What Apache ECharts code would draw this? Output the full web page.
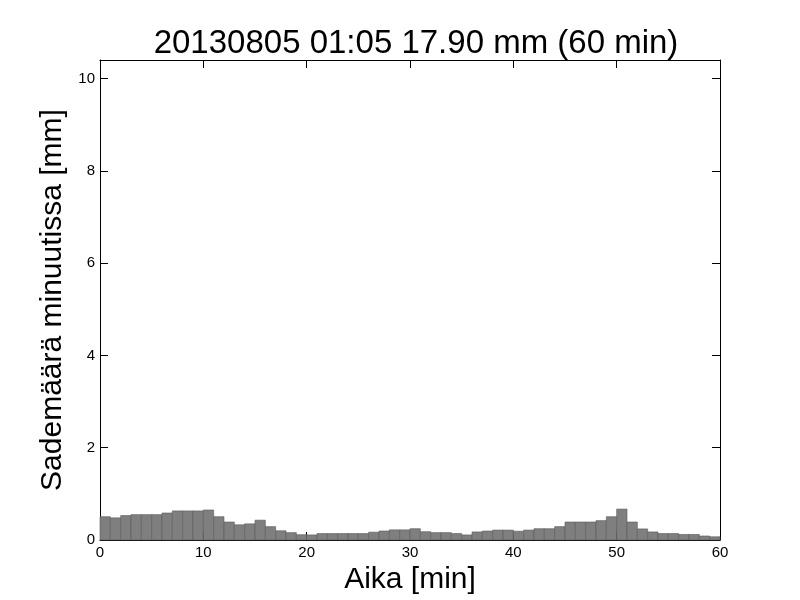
<!DOCTYPE html>
<html>
<head>
<meta charset="utf-8">
<script src="https://cdn.jsdelivr.net/npm/echarts@6/dist/echarts.min.js"></script>
<style>html,body{margin:0;padding:0;background:#fff}#c{width:800px;height:600px}</style>
</head>
<body>
<div id="c"></div>
<script>
const titleText = '20130805 01:05 17.90 mm (60 min)';
const xLabel = 'Aika [min]';
const yLabel = 'Sademäärä minuutissa [mm]';
const minutes = Array.from({length: 60}, (_, i) => i);
const rain = [
  0.505, 0.48, 0.53, 0.55, 0.55, 0.55, 0.585, 0.63, 0.63, 0.63,
  0.65, 0.505, 0.39, 0.33, 0.35, 0.43, 0.29, 0.20, 0.16, 0.115,
  0.11, 0.14, 0.14, 0.14, 0.14, 0.14, 0.17, 0.195, 0.22, 0.22,
  0.245, 0.18, 0.16, 0.16, 0.14, 0.11, 0.175, 0.195, 0.215, 0.215,
  0.19, 0.215, 0.245, 0.245, 0.29, 0.39, 0.39, 0.39, 0.42, 0.505,
  0.67, 0.39, 0.24, 0.175, 0.14, 0.14, 0.12, 0.12, 0.087, 0.07
];
const xTicks = [0, 10, 20, 30, 40, 50, 60];
const yTicks = [0, 2, 4, 6, 8, 10];

const data = minutes.map((m, i) => [m, m + 1, rain[i]]);
const font = 'Liberation Sans, Arial, sans-serif';
const chart = echarts.init(document.getElementById('c'));
const axisCommon = {
  axisLine: {show: true, onZero: false, lineStyle: {color: '#000', width: 1}},
  axisTick: {show: true, inside: true, length: 8, lineStyle: {color: '#000'}},
  splitLine: {show: false}
};
chart.setOption({
  animation: false,
  title: {text: titleText, left: 411, top: 22, textAlign: 'center',
    textStyle: {fontFamily: font, fontSize: 33, fontWeight: 'normal', color: '#000'}},
  grid: {left: 100, right: 80, top: 60, bottom: 60},
  xAxis: [
    Object.assign({type: 'value', min: 0, max: 60, interval: 10, position: 'bottom',
      name: xLabel, nameLocation: 'middle', nameGap: 23,
      nameTextStyle: {fontFamily: font, fontSize: 30, color: '#000'},
      axisLabel: {fontFamily: font, fontSize: 15, color: '#000', margin: 5,
        formatter: v => xTicks.includes(v) ? String(v) : ''}}, axisCommon),
    Object.assign({type: 'value', min: 0, max: 60, interval: 10, position: 'top',
      axisLabel: {show: false}}, axisCommon)
  ],
  yAxis: [
    Object.assign({type: 'value', min: 0, max: 10.4, interval: 2, position: 'left',
      name: yLabel, nameLocation: 'middle', nameGap: 28, nameRotate: 90,
      nameTextStyle: {fontFamily: font, fontSize: 30, color: '#000'},
      axisLabel: {fontFamily: font, fontSize: 15, color: '#000', margin: 5,
        formatter: v => yTicks.includes(v) ? String(v) : ''}}, axisCommon),
    Object.assign({type: 'value', min: 0, max: 10.4, interval: 2, position: 'right',
      axisLabel: {show: false}}, axisCommon)
  ],
  series: [{
    type: 'custom',
    xAxisIndex: 0, yAxisIndex: 0,
    data: data,
    encode: {x: [0, 1], y: 2},
    renderItem: function (params, api) {
      const p0 = api.coord([api.value(0), 0]);
      const p1 = api.coord([api.value(1), api.value(2)]);
      return {
        type: 'rect',
        shape: {x: p0[0], y: p1[1], width: p1[0] - p0[0], height: p0[1] - p1[1]},
        style: {fill: '#7f7f7f', stroke: '#5a5a5a', lineWidth: 0.6}
      };
    }
  }]
});
</script>
</body>
</html>
